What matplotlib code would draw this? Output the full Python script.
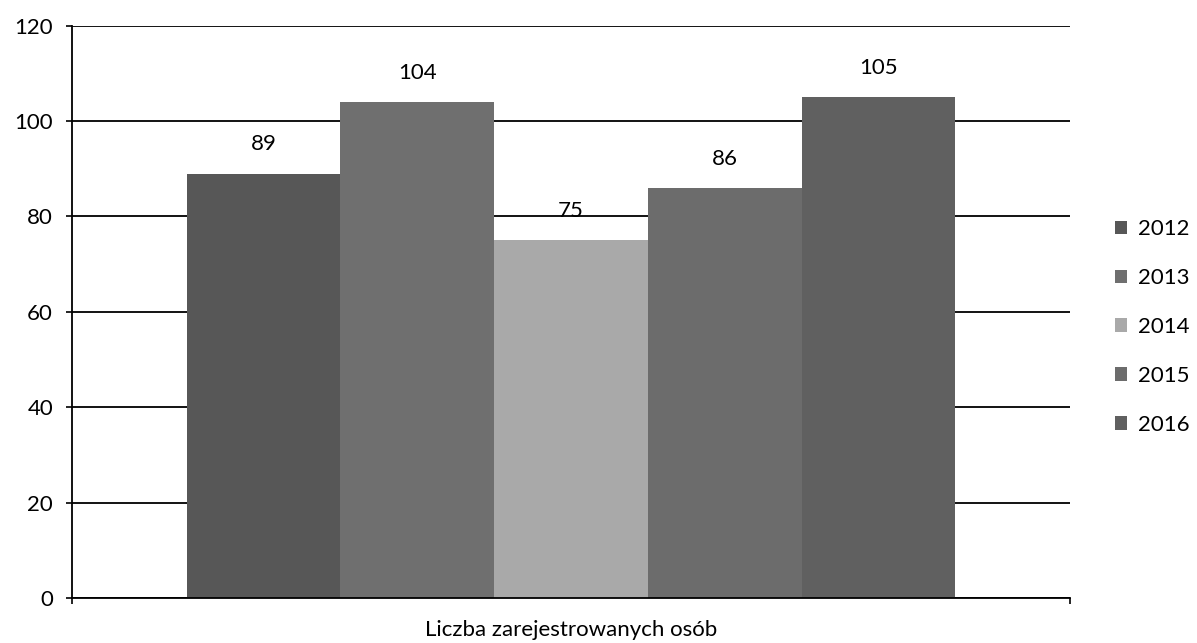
import numpy as np
import matplotlib.pyplot as plt

years = ["2012", "2013", "2014", "2015", "2016"]
values = [89, 104, 75, 86, 105]
colors = ["#575757", "#6f6f6f", "#a9a9a9", "#6c6c6c", "#606060"]
category = "Liczba zarejestrowanych osób"
yticks = [0, 20, 40, 60, 80, 100, 120]

plt.rcParams['font.family'] = ['Lato', 'DejaVu Sans']
plt.rcParams['font.size'] = 16

fig = plt.figure(figsize=(11.97, 6.43), dpi=100)
ax = fig.add_axes([0.060, 0.070, 0.834, 0.890])

width = 0.154
n = len(values)
offsets = (np.arange(n) - (n - 1) / 2) * width
for i in range(n):
    ax.bar(offsets[i], values[i], width=width, color=colors[i],
           label=years[i], zorder=2)
    ax.annotate(str(values[i]), (offsets[i], values[i]), xytext=(0, 21),
                textcoords="offset points", ha="center", va="center",
                fontsize=16, zorder=3)

ax.set_xlim(-0.5, 0.5)
ax.set_ylim(0, 120)
ax.set_yticks(yticks)
ax.set_xticks([-0.5, 0.5])
ax.set_xticklabels(["", ""])
ax.tick_params(axis="y", length=4.5, width=1.2, pad=9)
ax.tick_params(axis="x", length=4.5, width=1.2)
ax.yaxis.grid(True, color="black", linewidth=1.3, zorder=0)
ax.set_axisbelow(True)
for s in ["top", "right"]:
    ax.spines[s].set_visible(False)
for s in ["left", "bottom"]:
    ax.spines[s].set_linewidth(1.3)
ax.set_xlabel(category, fontsize=16, labelpad=8)

fig.legend(loc="center left", bbox_to_anchor=(1095 / 1197, 1 - 327 / 643),
           frameon=False, handlelength=0.55, handleheight=0.55,
           handletextpad=0.5, labelspacing=1.3, fontsize=16)

fig.savefig("out.png", dpi=100)
